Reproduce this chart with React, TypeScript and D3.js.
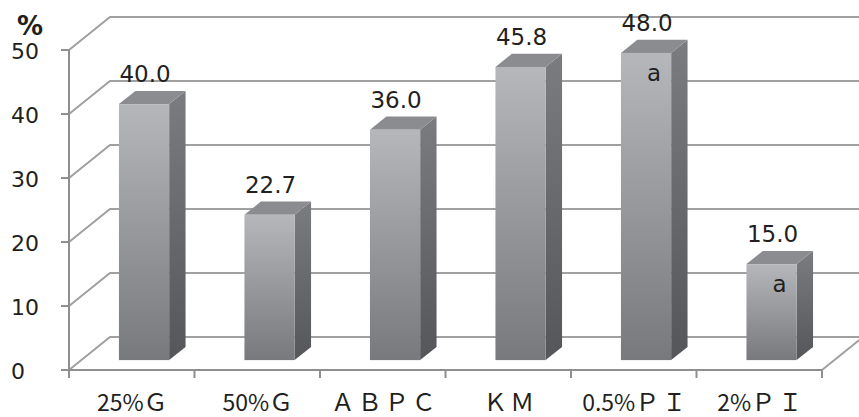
import React from "react";
import * as d3 from "d3";

// Chart data
const categories = ["25%Ｇ", "50%Ｇ", "ＡＢＰＣ", "ＫＭ", "0.5%ＰＩ", "2%ＰＩ"];
const values = [40.0, 22.7, 36.0, 45.8, 48.0, 15.0];
const marks = ["", "", "", "", "a", "a"];
const yTicks = [0, 10, 20, 30, 40, 50];
const yUnit = "%";

const W = 859;
const H = 417;

// Oblique projection of the 3D box: depth vector of the floor
const DEPTH_X = 41;
const DEPTH_Y = -33;
const BAR_D0 = 0.3; // bar front plane (fraction of depth)
const BAR_D1 = 0.7; // bar back plane

const NUM_FONT = "'DejaVu Sans', sans-serif";
const CAT_FONT = "'Noto Sans CJK JP', 'Noto Sans', sans-serif";

// split a label into runs of full-width and ordinary characters
function splitRuns(s: string): { text: string; wide: boolean }[] {
  const runs: { text: string; wide: boolean }[] = [];
  for (const ch of s) {
    const wide = ch.charCodeAt(0) > 0xff00;
    const last = runs[runs.length - 1];
    if (last && last.wide === wide) last.text += ch;
    else runs.push({ text: ch, wide });
  }
  return runs;
}

export default function App() {
  const x = d3
    .scaleBand<string>()
    .domain(categories)
    .range([69, 822])
    .paddingInner(0.6)
    .paddingOuter(0.3);
  const y = d3.scaleLinear().domain([0, 50]).range([370, 50]);

  const proj = (px: number, py: number, d: number): [number, number] => [
    px + DEPTH_X * d,
    py + DEPTH_Y * d,
  ];

  const x0 = x.range()[0];
  const x1 = x.range()[1];
  const gridColor = "#a0a0a0";
  const axisColor = "#8f8f8f";

  const poly = (pts: [number, number][]) =>
    "M" + pts.map((p) => p.join(",")).join("L") + "Z";

  // boundaries between categories for x tick marks
  const boundaries = [
    x0,
    ...categories.map(
      (c) => (x(c) as number) + x.bandwidth() + (x.step() * x.paddingInner()) / 2
    ),
  ];
  boundaries[boundaries.length - 1] = x1;

  return (
    <svg
      width={W}
      height={H}
      style={{ position: "absolute", left: 0, top: 0, background: "#fff" }}
    >
      <defs>
        <linearGradient id="frontGrad" x1="0" y1="0" x2="0" y2="1">
          <stop offset="0" stopColor="#b6b7bb" />
          <stop offset="1" stopColor="#78797d" />
        </linearGradient>
        <linearGradient id="sideGrad" x1="0" y1="0" x2="0" y2="1">
          <stop offset="0" stopColor="#7b7c80" />
          <stop offset="1" stopColor="#55565a" />
        </linearGradient>
      </defs>

      {/* walls: gridlines on the left wall and back wall */}
      <g fill="none" stroke={gridColor} strokeWidth={2}>
        {yTicks.map((t) => {
          const a: [number, number] = [x0, y(t)];
          const b = proj(x0, y(t), 1);
          const c = proj(x1, y(t), 1);
          return <path key={t} d={`M${a.join(",")}L${b.join(",")}L${c.join(",")}`} />;
        })}
        {/* right edge of floor */}
        <path d={`M${x1},${y(0)}L${proj(x1, y(0), 1).join(",")}`} />
      </g>

      {/* axes */}
      <g stroke={axisColor} strokeWidth={2} fill="none">
        <line x1={x0} y1={y(50)} x2={x0} y2={y(0)} />
        <line x1={x0} y1={y(0)} x2={x1} y2={y(0)} />
        {yTicks.map((t) => (
          <line key={t} x1={x0 - 8} y1={y(t)} x2={x0} y2={y(t)} />
        ))}
        {boundaries.map((bx, i) => (
          <line key={i} x1={bx} y1={y(0)} x2={bx} y2={y(0) + 8} />
        ))}
      </g>

      {/* bars */}
      {categories.map((c, i) => {
        const v = values[i];
        const bx = x(c) as number;
        const bw = x.bandwidth();
        const f0 = proj(bx, y(v), BAR_D0);
        const f1 = proj(bx + bw, y(0), BAR_D0);
        const front = { x: f0[0], y: f0[1], w: f1[0] - f0[0], h: f1[1] - f0[1] };
        const side = poly([
          proj(bx + bw, y(v), BAR_D0),
          proj(bx + bw, y(v), BAR_D1),
          proj(bx + bw, y(0), BAR_D1),
          proj(bx + bw, y(0), BAR_D0),
        ]);
        const top = poly([
          proj(bx, y(v), BAR_D0),
          proj(bx, y(v), BAR_D1),
          proj(bx + bw, y(v), BAR_D1),
          proj(bx + bw, y(v), BAR_D0),
        ]);
        const cx = front.x + front.w / 2;
        return (
          <g key={c}>
            <path d={side} fill="url(#sideGrad)" />
            <path d={top} fill="#8b8c90" />
            <rect x={front.x} y={front.y} width={front.w} height={front.h} fill="url(#frontGrad)" />
            <text
              x={cx + 1}
              y={proj(bx, y(v), BAR_D1)[1] - 9}
              textAnchor="middle"
              fontFamily={NUM_FONT}
              fontSize={23}
              fill="#231f20"
            >
              {v.toFixed(1)}
            </text>
            {marks[i] && (
              <text
                x={cx + 8}
                y={front.y + 28}
                textAnchor="middle"
                fontFamily={NUM_FONT}
                fontSize={23}
                fill="#231f20"
              >
                {marks[i]}
              </text>
            )}
          </g>
        );
      })}

      {/* y tick labels */}
      {yTicks.map((t) => (
        <text
          key={t}
          x={11}
          y={y(t) + 9}
          fontFamily={NUM_FONT}
          fontSize={22}
          fill="#231f20"
        >
          {t}
        </text>
      ))}
      <text x={17} y={35} fontFamily={NUM_FONT} fontSize={26} fontWeight="bold" fill="#231f20">
        {yUnit}
      </text>

      {/* category labels */}
      {categories.map((c) => (
        <text
          key={c}
          x={(x(c) as number) + x.bandwidth() / 2 + 2}
          y={411}
          textAnchor="middle"
          fontFamily={CAT_FONT}
          fontSize={22}
          fill="#231f20"
        >
          {splitRuns(c).map((r, k) => (
            <tspan key={k} fontSize={r.wide ? 24 : 23} letterSpacing={r.wide ? 3 : 0}>
              {r.text}
            </tspan>
          ))}
        </text>
      ))}
    </svg>
  );
}
